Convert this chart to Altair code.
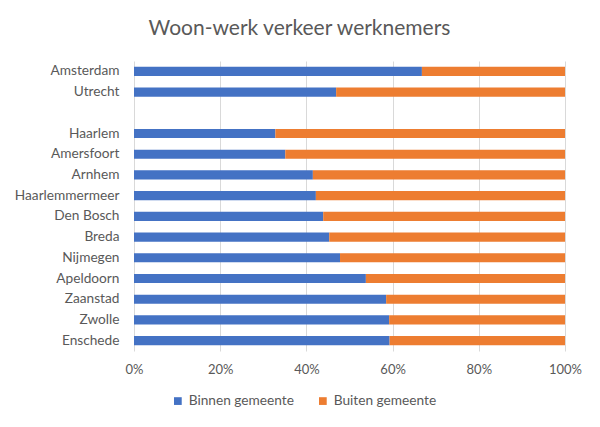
import altair as alt
import pandas as pd

cities = ["Amsterdam", "Utrecht", "Haarlem", "Amersfoort", "Arnhem", "Haarlemmermeer",
          "Den Bosch", "Breda", "Nijmegen", "Apeldoorn", "Zaanstad", "Zwolle", "Enschede"]
binnen = [66.8, 46.9, 32.8, 35.1, 41.5, 42.2, 43.9, 45.3, 47.8, 53.8, 58.5, 59.2, 59.3]
buiten = [33.2, 53.1, 67.2, 64.9, 58.5, 57.8, 56.1, 54.7, 52.2, 46.2, 41.5, 40.8, 40.7]
series = ["Binnen gemeente", "Buiten gemeente"]
y_order = ["Amsterdam", "Utrecht", " ", "Haarlem", "Amersfoort", "Arnhem", "Haarlemmermeer",
           "Den Bosch", "Breda", "Nijmegen", "Apeldoorn", "Zaanstad", "Zwolle", "Enschede"]

rows = []
for c, b, u in zip(cities, binnen, buiten):
    rows.append({"stad": c, "reeks": series[0], "waarde": b, "orde": 0})
    rows.append({"stad": c, "reeks": series[1], "waarde": u, "orde": 1})
df = pd.DataFrame(rows)

FONT = "Lato"
GREY = "#595959"

chart = alt.Chart(df).mark_bar().encode(
    y=alt.Y("stad:N", title=None,
            scale=alt.Scale(domain=y_order, paddingInner=0.56, paddingOuter=0.28),
            axis=alt.Axis(ticks=False, domain=False, labelPadding=15, labelFontSize=13.7,
                          labelColor=GREY, labelFont=FONT, grid=False)),
    x=alt.X("waarde:Q", stack="normalize", title=None,
            scale=alt.Scale(domain=[0, 1], nice=False),
            axis=alt.Axis(format=".0%", values=[0, 0.2, 0.4, 0.6, 0.8, 1.0], ticks=False,
                          domain=False, labelPadding=12, labelFontSize=13, labelColor=GREY,
                          labelFont=FONT, labelFlush=False, gridColor="#d9d9d9", gridWidth=1)),
    color=alt.Color("reeks:N", title=None,
                    scale=alt.Scale(domain=series, range=["#4472C4", "#ED7D31"]),
                    legend=alt.Legend(orient="none", direction="horizontal", legendX=37,
                                      legendY=333, symbolType="square", symbolSize=60,
                                      symbolStrokeWidth=0, labelFontSize=13.7, labelColor=GREY,
                                      labelFont=FONT, columnPadding=22, labelOffset=4)),
    order=alt.Order("orde:Q"),
).properties(
    width=431,
    height=290,
    autosize=alt.AutoSizeParams(type="none"),
    padding={"left": 126, "top": 53, "right": 27, "bottom": 70},
    title=alt.TitleParams("Woon-werk verkeer werknemers", fontSize=21, font=FONT,
                          fontWeight="normal", color=GREY, anchor="middle", dx=-50, offset=22),
).configure_view(stroke=None)

chart.save("out.html", embed_options={"renderer": "svg", "actions": False})
